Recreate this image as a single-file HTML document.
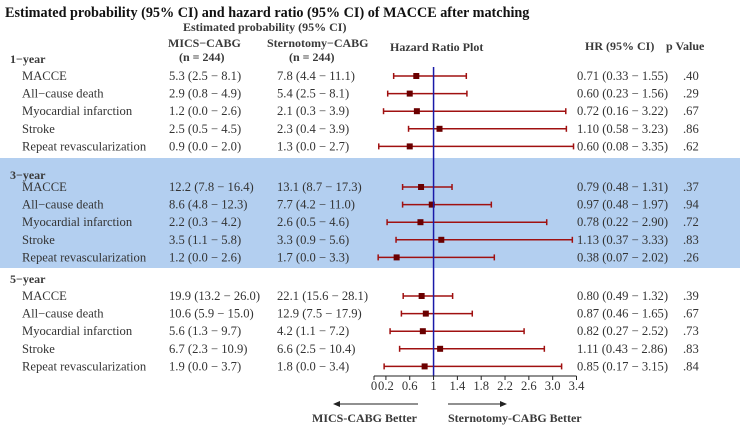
<!DOCTYPE html>
<html><head><meta charset="utf-8"><style>
body{margin:0;background:#fff;width:740px;height:425px;overflow:hidden}
svg{font-family:"Liberation Serif",serif}
.h{font-weight:bold;fill:#3a3a3a;font-size:12px}
.t{fill:#333;font-size:12.6px}
</style></head><body>
<svg id="c" width="740" height="425">
<rect x="0" y="158" width="740" height="110" fill="#b3cff0"/>
<text x="5" y="17" font-size="14.2" font-weight="bold" fill="#111">Estimated probability (95% CI) and hazard ratio (95% CI) of MACCE after matching</text>
<text class="h" x="183" y="31">Estimated probability (95% CI)</text>
<text class="h" x="168" y="47">MICS−CABG</text>
<text class="h" x="179" y="61">(n = 244)</text>
<text class="h" x="267" y="47">Sternotomy−CABG</text>
<text class="h" x="289" y="61">(n = 244)</text>
<text class="h" x="390" y="51">Hazard Ratio Plot</text>
<text class="h" x="585" y="50">HR (95% CI)</text>
<text class="h" x="666" y="50">p Value</text>
<g id="rows"></g>
</svg>
<script>
const groups=["1−year","3−year","5−year"];
const outcomes=["MACCE","All−cause death","Myocardial infarction","Stroke","Repeat revascularization"];
const mics=[["5.3 (2.5 − 8.1)","2.9 (0.8 − 4.9)","1.2 (0.0 − 2.6)","2.5 (0.5 − 4.5)","0.9 (0.0 − 2.0)"],["12.2 (7.8 − 16.4)","8.6 (4.8 − 12.3)","2.2 (0.3 − 4.2)","3.5 (1.1 − 5.8)","1.2 (0.0 − 2.6)"],["19.9 (13.2 − 26.0)","10.6 (5.9 − 15.0)","5.6 (1.3 − 9.7)","6.7 (2.3 − 10.9)","1.9 (0.0 − 3.7)"]];
const stern=[["7.8 (4.4 − 11.1)","5.4 (2.5 − 8.1)","2.1 (0.3 − 3.9)","2.3 (0.4 − 3.9)","1.3 (0.0 − 2.7)"],["13.1 (8.7 − 17.3)","7.7 (4.2 − 11.0)","2.6 (0.5 − 4.6)","3.3 (0.9 − 5.6)","1.7 (0.0 − 3.3)"],["22.1 (15.6 − 28.1)","12.9 (7.5 − 17.9)","4.2 (1.1 − 7.2)","6.6 (2.5 − 10.4)","1.8 (0.0 − 3.4)"]];
const hr=[[0.71,0.60,0.72,1.10,0.60],[0.79,0.97,0.78,1.13,0.38],[0.80,0.87,0.82,1.11,0.85]];
const lo=[[0.33,0.23,0.16,0.58,0.08],[0.48,0.48,0.22,0.37,0.07],[0.49,0.46,0.27,0.43,0.17]];
const hi=[[1.55,1.56,3.22,3.23,3.35],[1.31,1.97,2.90,3.33,2.02],[1.32,1.65,2.52,2.86,3.15]];
const pv=[[".40",".29",".67",".86",".62"],[".37",".94",".72",".83",".26"],[".39",".67",".73",".83",".84"]];
const ticks=[0,0.2,0.6,1,1.4,1.8,2.2,2.6,3.0,3.4];
const tickLabels=["0","0.2","0.6","1","1.4","1.8","2.2","2.6","3.0","3.4"];
const NS="http://www.w3.org/2000/svg";
const g=document.getElementById('rows');
const X=v=>374+v*(576.5-374)/3.4;
const headY=[59,175,279], rowY0=[76,187,296], dy=17.6;
function mk(t,a,txt){const e=document.createElementNS(NS,t);for(const k in a)e.setAttribute(k,a[k]);if(txt!=null)e.textContent=txt;g.appendChild(e);return e;}
groups.forEach((gr,i)=>{
  let e=mk('text',{x:10,y:headY[i]+4,class:'h','font-size':'12.5'},gr);
  
  
  outcomes.forEach((o,j)=>{
    const y=rowY0[i]+j*dy;
    e=mk('text',{x:22,y:y+4,class:'t'},o);
    
    
    e=mk('text',{x:169,y:y+4,class:'t'},mics[i][j]);
    
    
    e=mk('text',{x:277,y:y+4,class:'t'},stern[i][j]);
    
    
    e=mk('text',{x:577,y:y+4,class:'t'},hr[i][j].toFixed(2)+" ("+lo[i][j].toFixed(2)+" − "+hi[i][j].toFixed(2)+")");
    
    
    e=mk('text',{x:683,y:y+4,class:'t'},pv[i][j]);
    
    
    e=mk('line',{x1:X(lo[i][j]),x2:X(hi[i][j]),y1:y,y2:y,stroke:'#a01010','stroke-width':1.5});
    
    
    [lo[i][j],hi[i][j]].forEach(v=>{e=mk('line',{x1:X(v),x2:X(v),y1:y-3,y2:y+3,stroke:'#a01010','stroke-width':1.5});
      
      });
    e=mk('rect',{x:X(hr[i][j])-3,y:y-3,width:6,height:6,fill:'#6a0000'});
    
    
  });
});
let e=mk('line',{x1:X(1),x2:X(1),y1:67,y2:376,stroke:'#1a1aa8','stroke-width':1.5});


e=mk('line',{x1:X(0),x2:X(3.4),y1:376,y2:376,stroke:'#222','stroke-width':1});


ticks.forEach((t,k)=>{
  e=mk('line',{x1:X(t),x2:X(t),y1:376,y2:380,stroke:'#222'});
  
  
  e=mk('text',{x:X(t),y:390,'text-anchor':'middle',class:'t','font-size':'11.5'},tickLabels[k]);
  
  
});
e=mk('line',{x1:418,x2:336,y1:404,y2:404,stroke:'#222'});


e=mk('path',{d:'M333 404 L340 401 L340 407 Z',fill:'#222'});


e=mk('line',{x1:448,x2:503,y1:404,y2:404,stroke:'#222'});


e=mk('path',{d:'M507 404 L500 401 L500 407 Z',fill:'#222'});


e=mk('text',{x:417,y:422,'text-anchor':'end',class:'h','font-size':'12.5'},'MICS-CABG Better');


e=mk('text',{x:448,y:422,class:'h','font-size':'12.5'},'Sternotomy-CABG Better');


</script>
</body></html>
